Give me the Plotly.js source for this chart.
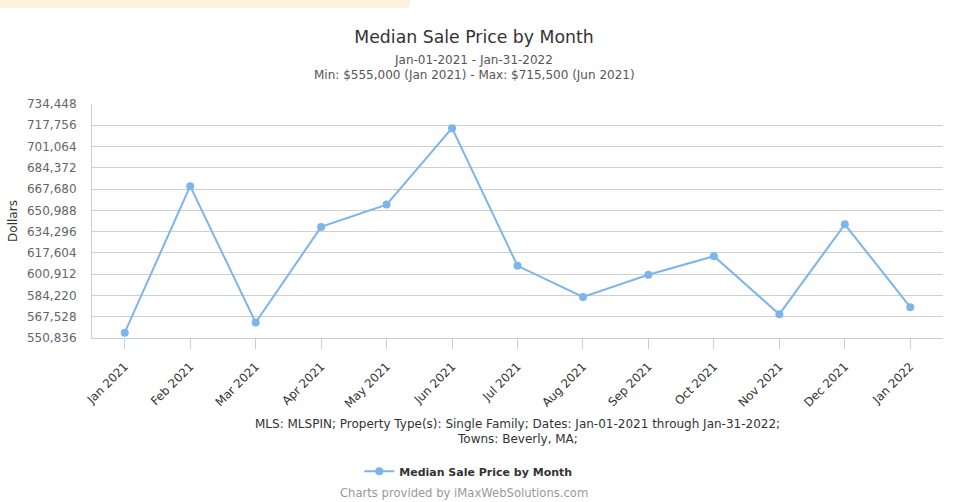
<!DOCTYPE html>
<html>
<head>
<meta charset="utf-8">
<script src="https://cdn.plot.ly/plotly-3.0.1.min.js"></script>
<style>
html,body{margin:0;padding:0;background:#fff;}
#wrap{position:relative;width:960px;height:502px;}
#strip{position:absolute;left:0;top:0;width:410px;height:8px;background:#fef1dd;border-bottom-right-radius:4px;z-index:5;}
#chart{position:absolute;left:0;top:0;width:960px;height:502px;}
</style>
</head>
<body>
<div id="wrap"><div id="strip"></div><div id="chart"></div></div>
<script>
const months = ["Jan 2021","Feb 2021","Mar 2021","Apr 2021","May 2021","Jun 2021","Jul 2021","Aug 2021","Sep 2021","Oct 2021","Nov 2021","Dec 2021","Jan 2022"];
const medianPrice = [555000, 670000, 563000, 638000, 655500, 715500, 607500, 583000, 600500, 615000, 569500, 640000, 575000];
const yTicks = [550836, 567528, 584220, 600912, 617604, 634296, 650988, 667680, 684372, 701064, 717756, 734448];
const yTickLabels = ["550,836","567,528","584,220","600,912","617,604","634,296","650,988","667,680","684,372","701,064","717,756","734,448"];
const seriesName = "Median Sale Price by Month";
const titleText = "Median Sale Price by Month";
const subtitle1 = "Jan-01-2021 - Jan-31-2022";
const subtitle2 = "Min: $555,000 (Jan 2021) - Max: $715,500 (Jun 2021)";
const footer1 = "MLS: MLSPIN; Property Type(s): Single Family; Dates: Jan-01-2021 through Jan-31-2022;";
const footer2 = "Towns: Beverly, MA;";
const credits = "Charts provided by iMaxWebSolutions.com";

const FONT = "'DejaVu Sans', Verdana, sans-serif";
const PX = v => (v - 91.6) / 851.4;
const PY = v => (338.5 - v) / 234.5;
const trace = {
  x: months, y: medianPrice, type: 'scatter', mode: 'lines+markers',
  name: seriesName,
  line: {color: '#7cb5ec', width: 2},
  marker: {color: '#7cb5ec', size: 8},
  cliponaxis: false
};
const layout = {
  width: 960, height: 502,
  margin: {l: 91.6, r: 17, t: 104, b: 163.5, pad: 0},
  paper_bgcolor: '#fff', plot_bgcolor: '#fff',
  font: {family: FONT, size: 12, color: '#333'},
  showlegend: true,
  title: {text: titleText, font: {family: FONT, size: 17.3, color: '#333'}, x: 474/960, xanchor: 'center', y: 1 - 37/502, yanchor: 'middle', xref: 'container', yref: 'container'},
  xaxis: {
    type: 'category', range: [-0.5, 12.5], fixedrange: true,
    showgrid: false, zeroline: false,
    showline: true, linecolor: '#c0d0e0', linewidth: 1,
    ticks: 'outside', ticklen: 10, tickcolor: '#c0d0e0', tickwidth: 1,
    tickangle: -45, ticklabelstandoff: 6, tickfont: {family: FONT, size: 11.8, color: '#333'}
  },
  yaxis: {
    range: [550836, 734448], fixedrange: true,
    tickvals: yTicks, ticktext: yTickLabels,
    showgrid: true, gridcolor: '#d0d0d0', gridwidth: 1,
    zeroline: false, showline: true, linecolor: '#d0d0d0', linewidth: 1,
    ticks: '', ticklabelstandoff: 12,
    tickfont: {family: FONT, size: 12, color: '#666'},
    title: {text: 'Dollars', font: {family: FONT, size: 12, color: '#333'}, standoff: 6}
  },
  legend: {
    orientation: 'h', x: PX(468), xanchor: 'center', y: PY(472), yanchor: 'middle',
    font: {family: FONT, size: 11, color: '#333', weight: 'bold'},
    itemwidth: 30
  },
  annotations: [
    {text: subtitle1, xref: 'paper', yref: 'paper', x: PX(473), y: PY(60), xanchor: 'center', yanchor: 'middle', showarrow: false, font: {family: FONT, size: 12, color: '#555'}},
    {text: subtitle2, xref: 'paper', yref: 'paper', x: PX(474), y: PY(75), xanchor: 'center', yanchor: 'middle', showarrow: false, font: {family: FONT, size: 12, color: '#555'}},
    {text: footer1, xref: 'paper', yref: 'paper', x: PX(517), y: PY(425), xanchor: 'center', yanchor: 'middle', showarrow: false, font: {family: FONT, size: 12, color: '#333'}},
    {text: footer2, xref: 'paper', yref: 'paper', x: PX(517), y: PY(440), xanchor: 'center', yanchor: 'middle', showarrow: false, font: {family: FONT, size: 12, color: '#333'}},
    {text: credits, xref: 'paper', yref: 'paper', x: PX(464), y: PY(494), xanchor: 'center', yanchor: 'middle', showarrow: false, font: {family: FONT, size: 11.6, color: '#999'}}
  ]
};
Plotly.newPlot('chart', [trace], layout, {displayModeBar: false, staticPlot: true});
</script>
</body>
</html>
